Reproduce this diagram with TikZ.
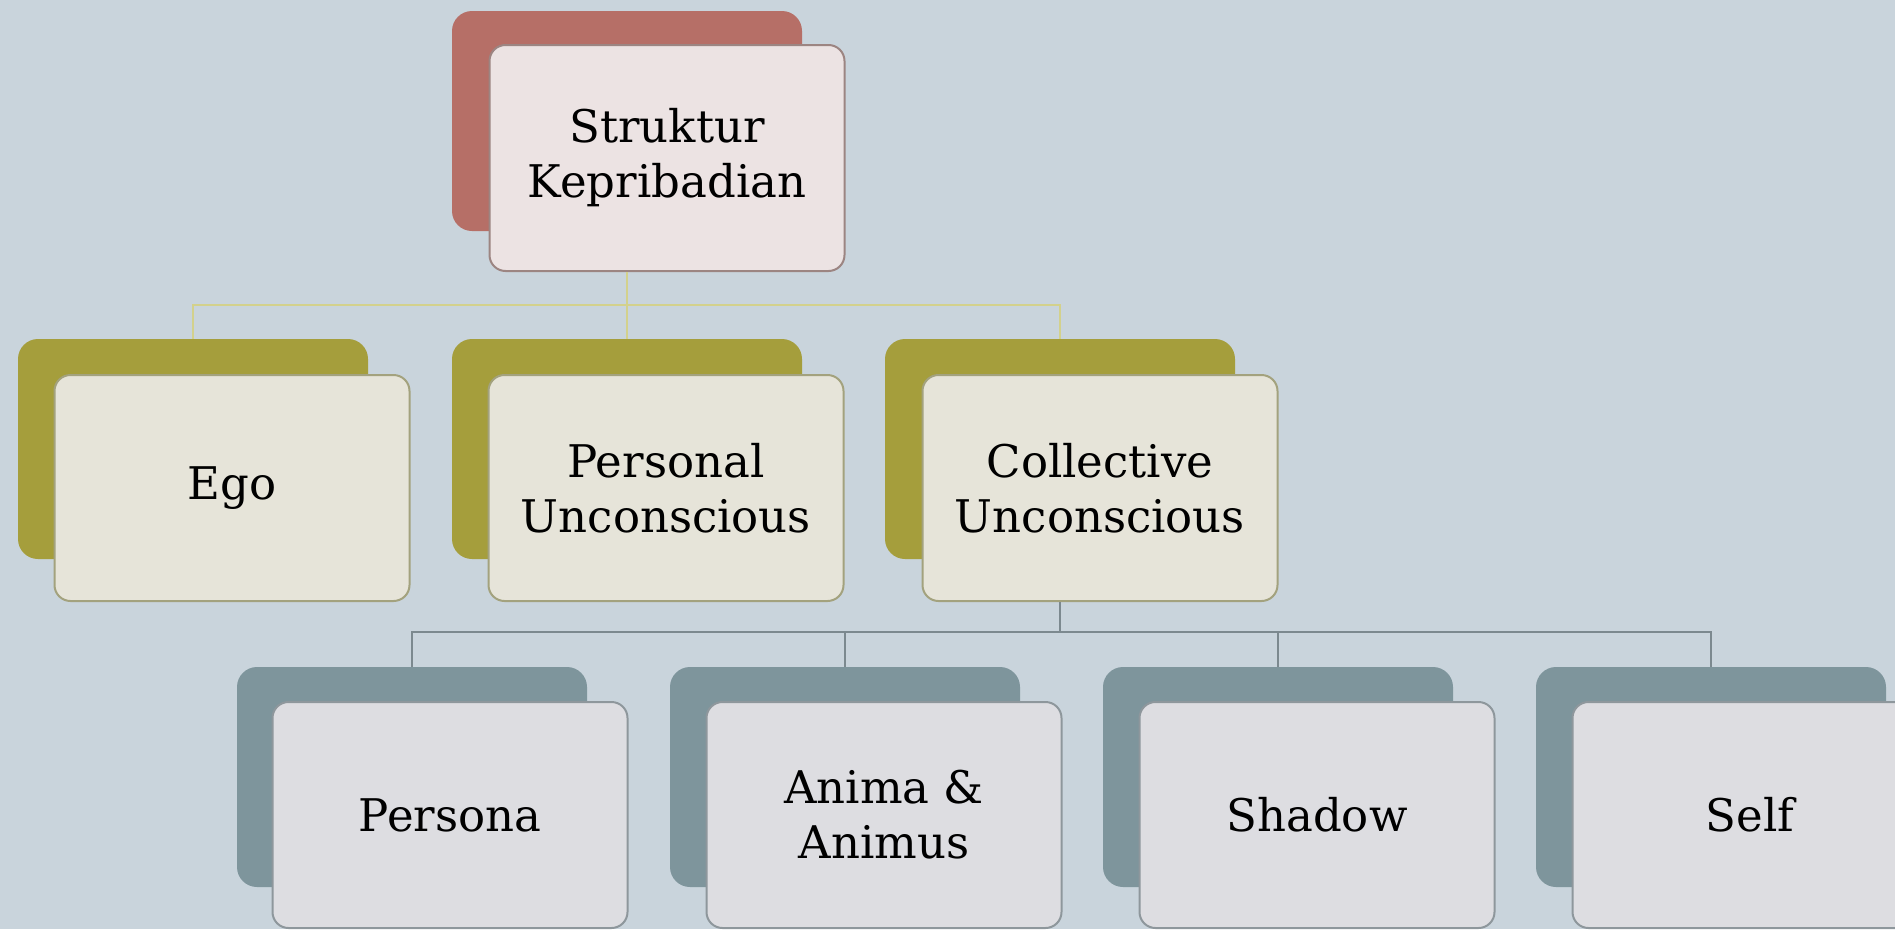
\documentclass[tikz,border=0pt]{standalone}
\usepackage{fontspec}
\setmainfont{DejaVu Serif}
\definecolor{bg}{HTML}{C9D4DC}
\definecolor{redB}{HTML}{B66F67}
\definecolor{oliveB}{HTML}{A59E3C}
\definecolor{slateB}{HTML}{7E959C}
\definecolor{redF}{HTML}{ECE3E3}
\definecolor{oliveF}{HTML}{E6E4D9}
\definecolor{slateF}{HTML}{DDDDE1}
\definecolor{redL}{HTML}{9C8582}
\definecolor{oliveL}{HTML}{A3A27E}
\definecolor{slateL}{HTML}{8E979C}
\definecolor{connY}{HTML}{D3D18C}
\definecolor{connG}{HTML}{7C898F}
\tikzset{
  backbox/.style={rectangle, rounded corners=20pt, minimum width=350pt, minimum height=220pt, inner sep=0pt},
  frontbox/.style={rectangle, rounded corners=16pt, minimum width=355pt, minimum height=226pt, inner sep=0pt, line width=2pt, align=center, font=\fontsize{45}{55}\selectfont, text=black},
  connA/.style={draw=connY, line width=2.5pt},
  connB/.style={draw=connG, line width=2.2pt},
}
\begin{document}
\begin{tikzpicture}[x=1pt,y=-1pt]
\fill[bg] (0,0) rectangle (1895,929);
\useasboundingbox (0,0) rectangle (1895,929);
% bus coordinates
\coordinate (busA) at (0,305);
\coordinate (busB) at (0,632);
% back boxes
\node[backbox, fill=redB] (topB) at (627,121) {};
\node[backbox, fill=oliveB] (egoB) at (193,449) {};
\node[backbox, fill=oliveB] (perB) at (627,449) {};
\node[backbox, fill=oliveB] (colB) at (1060,449) {};
\node[backbox, fill=slateB] (psnB) at (412,777) {};
\node[backbox, fill=slateB] (aniB) at (845,777) {};
\node[backbox, fill=slateB] (shdB) at (1278,777) {};
\node[backbox, fill=slateB] (slfB) at (1711,777) {};
% front boxes
\node[frontbox, fill=redF, draw=redL] (topF) at (667,158) {Struktur\\Kepribadian};
\node[frontbox, fill=oliveF, draw=oliveL] (egoF) at (232,488) {Ego};
\node[frontbox, fill=oliveF, draw=oliveL] (perF) at (666,488) {Personal\\Unconscious};
\node[frontbox, fill=oliveF, draw=oliveL] (colF) at (1100,488) {Collective\\Unconscious};
\node[frontbox, fill=slateF, draw=slateL] (psnF) at (450,815) {Persona};
\node[frontbox, fill=slateF, draw=slateL] (aniF) at (884,815) {Anima \&\\Animus};
\node[frontbox, fill=slateF, draw=slateL] (shdF) at (1317,815) {Shadow};
\node[frontbox, fill=slateF, draw=slateL] (slfF) at (1750,815) {Self};
% connectors
\draw[connA] (topB.center |- topF.south) -- (topB.center |- busA) -| (egoB.north);
\draw[connA] (topB.center |- busA) -- (perB.north);
\draw[connA] (topB.center |- busA) -| (colB.north);
\draw[connB] (colB.center |- colF.south) -- (colB.center |- busB) -| (psnB.north);
\draw[connB] (colB.center |- busB) -| (aniB.north);
\draw[connB] (colB.center |- busB) -| (shdB.north);
\draw[connB] (colB.center |- busB) -| (slfB.north);
\end{tikzpicture}
\end{document}
